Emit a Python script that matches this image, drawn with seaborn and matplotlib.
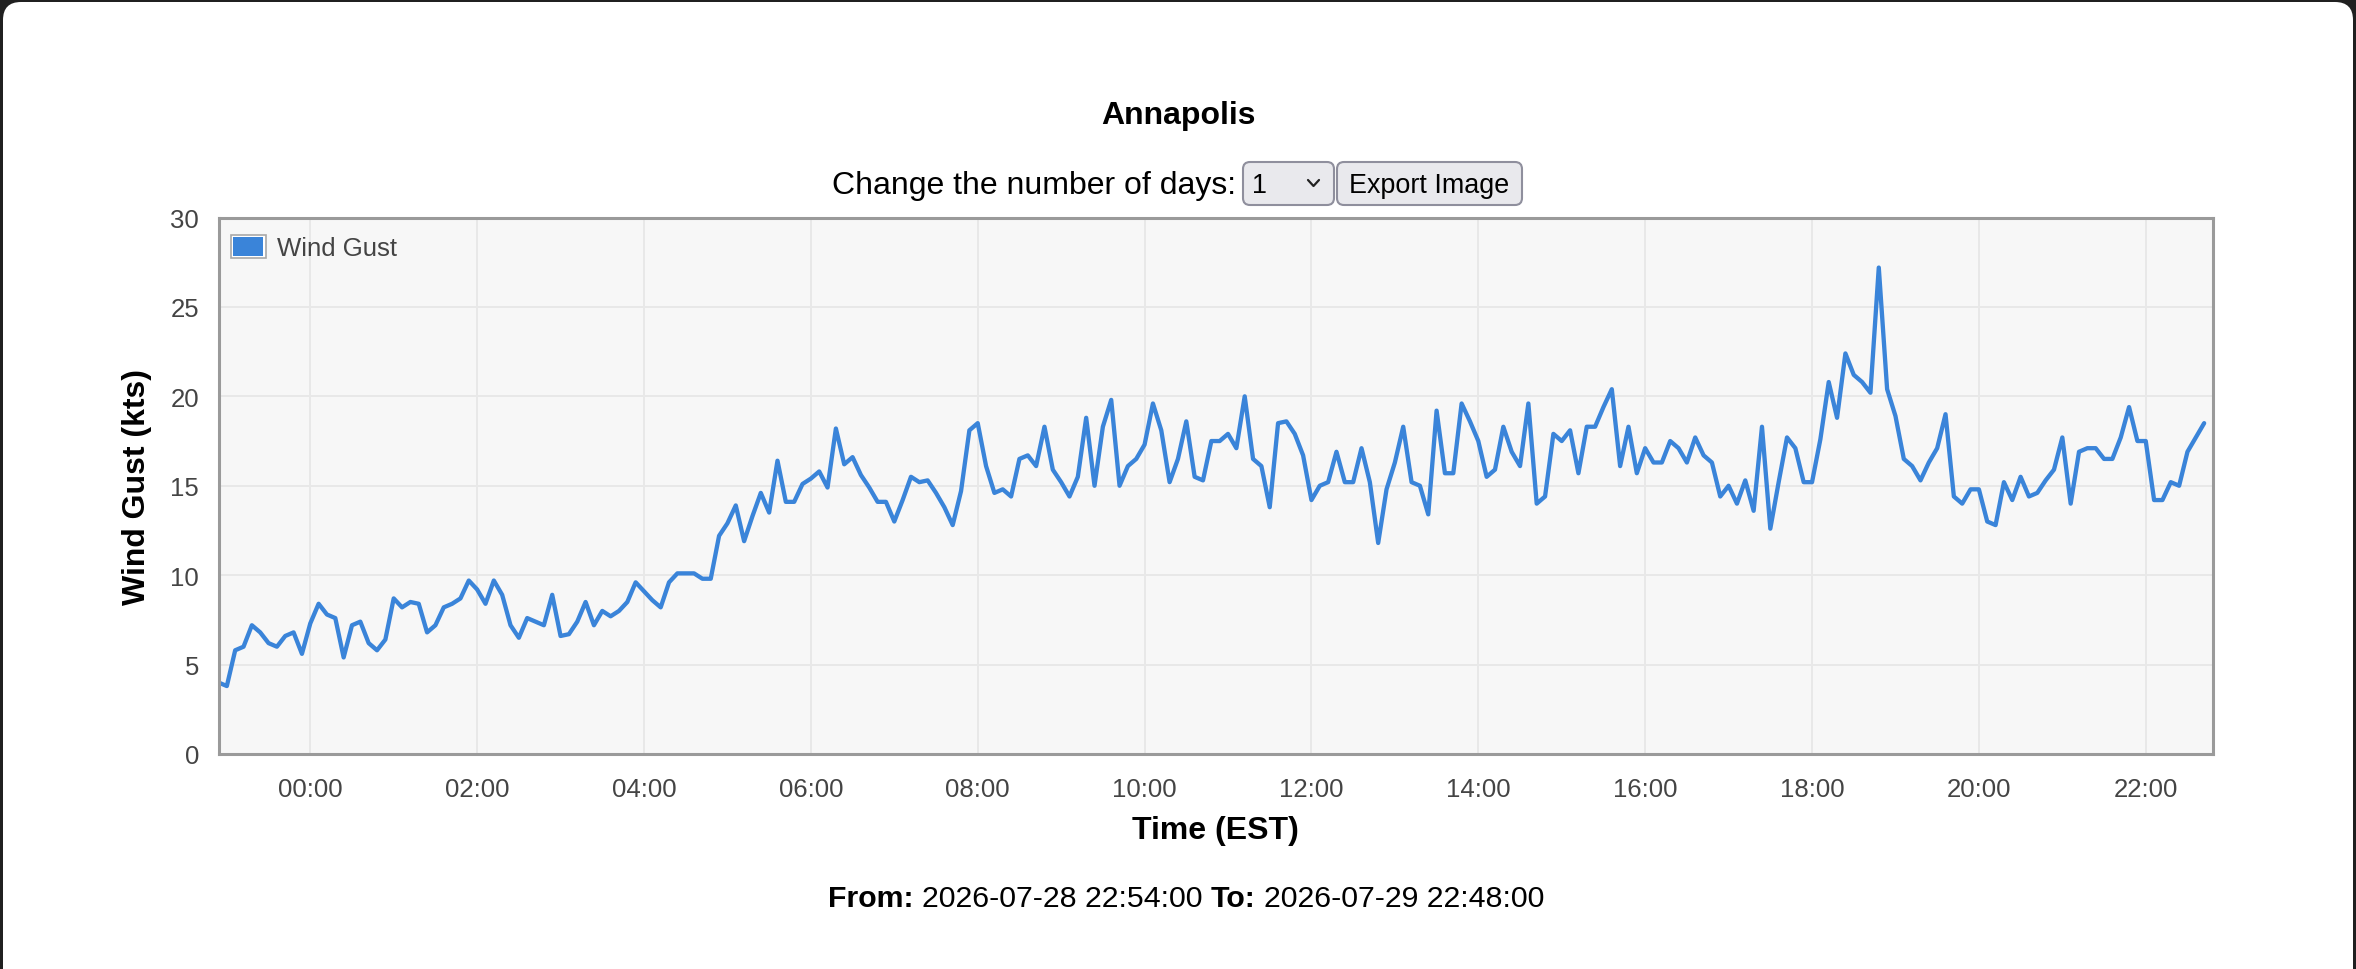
import matplotlib
matplotlib.use("Agg")
import matplotlib.pyplot as plt
import matplotlib.dates as mdates
from matplotlib.patches import FancyBboxPatch, Rectangle, Patch
from matplotlib.legend_handler import HandlerBase
import pandas as pd
import seaborn as sns

# chart data
station = "Annapolis"
start_time = "2026-07-28 22:54:00"
end_time = "2026-07-29 22:48:00"
step = "6min"
series_name = "Wind Gust"

gust_kts = [
    4.0, 3.8, 5.8, 6.0, 7.2, 6.8, 6.2, 6.0, 6.6, 6.8,
    5.6, 7.3, 8.4, 7.8, 7.6, 5.4, 7.2, 7.4, 6.2, 5.8,
    6.4, 8.7, 8.2, 8.5, 8.4, 6.8, 7.2, 8.2, 8.4, 8.7,
    9.7, 9.2, 8.4, 9.7, 8.9, 7.2, 6.5, 7.6, 7.4, 7.2,
    8.9, 6.6, 6.7, 7.4, 8.5, 7.2, 8.0, 7.7, 8.0, 8.5,
    9.6, 9.1, 8.6, 8.2, 9.6, 10.1, 10.1, 10.1, 9.8, 9.8,
    12.2, 12.9, 13.9, 11.9, 13.3, 14.6, 13.5, 16.4, 14.1, 14.1,
    15.1, 15.4, 15.8, 14.9, 18.2, 16.2, 16.6, 15.6, 14.9, 14.1,
    14.1, 13.0, 14.2, 15.5, 15.2, 15.3, 14.6, 13.8, 12.8, 14.7,
    18.1, 18.5, 16.1, 14.6, 14.8, 14.4, 16.5, 16.7, 16.1, 18.3,
    15.9, 15.2, 14.4, 15.5, 18.8, 15.0, 18.3, 19.8, 15.0, 16.1,
    16.5, 17.3, 19.6, 18.1, 15.2, 16.5, 18.6, 15.5, 15.3, 17.5,
    17.5, 17.9, 17.1, 20.0, 16.5, 16.1, 13.8, 18.5, 18.6, 17.9,
    16.7, 14.2, 15.0, 15.2, 16.9, 15.2, 15.2, 17.1, 15.2, 11.8,
    14.8, 16.3, 18.3, 15.2, 15.0, 13.4, 19.2, 15.7, 15.7, 19.6,
    18.6, 17.5, 15.5, 15.9, 18.3, 16.9, 16.1, 19.6, 14.0, 14.4,
    17.9, 17.5, 18.1, 15.7, 18.3, 18.3, 19.4, 20.4, 16.1, 18.3,
    15.7, 17.1, 16.3, 16.3, 17.5, 17.1, 16.3, 17.7, 16.7, 16.3,
    14.4, 15.0, 14.0, 15.3, 13.6, 18.3, 12.6, 15.2, 17.7, 17.1,
    15.2, 15.2, 17.6, 20.8, 18.8, 22.4, 21.2, 20.8, 20.2,
    27.2, 20.4, 18.9, 16.5, 16.1, 15.3, 16.3, 17.1, 19.0, 14.4,
    14.0, 14.8, 14.8, 13.0, 12.8, 15.2, 14.2, 15.5, 14.4, 14.6,
    15.3, 15.9, 17.7, 14.0, 16.9, 17.1, 17.1, 16.5, 16.5, 17.7,
    19.4, 17.5, 17.5, 14.2, 14.2, 15.2, 15.0, 16.9, 17.7, 18.5,
]
y_ticks = [0, 5, 10, 15, 20, 25, 30]
x_tick_hours = list(range(0, 24, 2))

W, H = 2356, 970
LINE_BLUE = "#3a84d9"


class BoxHandler(HandlerBase):
    # legend swatch: gray outline, thin white gap, blue fill
    def create_artists(self, legend, orig_handle, xdescent, ydescent,
                       width, height, fontsize, trans):
        g = 1.6
        outer = Rectangle((-xdescent, -ydescent), width, height,
                          facecolor="white", edgecolor="#a8a8a8", lw=1.2,
                          transform=trans)
        inner = Rectangle((-xdescent + g, -ydescent + g), width - 2 * g,
                          height - 2 * g, facecolor=orig_handle.get_facecolor(),
                          edgecolor="none", transform=trans)
        return [outer, inner]


sns.set_style("white")
plt.rcParams["font.family"] = ["Liberation Sans", "DejaVu Sans"]

fig = plt.figure(figsize=(W / 100, H / 100), dpi=100, facecolor="#202020")

# page background in pixel units
bg = fig.add_axes([0, 0, 1, 1], zorder=0)
bg.set_xlim(0, W)
bg.set_ylim(H, 0)
bg.axis("off")
bg.add_patch(FancyBboxPatch((3, 3), W - 6, H + 40,
                            boxstyle="round,pad=0,rounding_size=18",
                            fc="white", ec="none"))

bg.text(W / 2, 116, station, ha="center", va="center",
        fontsize=23, fontweight="bold", color="black")
bg.text(1236, 186, "Change the number of days:", ha="right", va="center",
        fontsize=23, color="black")

# select box
bg.add_patch(FancyBboxPatch((1243, 163), 91, 43,
                            boxstyle="round,pad=0,rounding_size=7",
                            fc="#e9e9ed", ec="#8f8f9d", lw=1.5))
bg.text(1252, 186, "1", ha="left", va="center", fontsize=19.4, color="black")
bg.plot([1308, 1313.5, 1319], [181, 187, 181], color="#222222", lw=1.6)

# export button
bg.add_patch(FancyBboxPatch((1337, 163), 185, 43,
                            boxstyle="round,pad=0,rounding_size=7",
                            fc="#e9e9ed", ec="#8f8f9d", lw=1.5))
bg.text(1429.5, 186, "Export Image", ha="center", va="center",
        fontsize=19.4, color="black")

# footer line with bold captions
parts = [("From:", "bold"), (start_time, "normal"),
         ("To:", "bold"), (end_time, "normal")]
renderer = fig.canvas.get_renderer()
texts = []
widths = []
for s, weight in parts:
    t = bg.text(0, 899, s, ha="left", va="center", fontsize=21.8,
                fontweight=weight, color="black")
    texts.append(t)
    widths.append(t.get_window_extent(renderer).width)
gap = 8.5
total = sum(widths) + gap * (len(parts) - 1)
x = 1186 - total / 2
for t, w in zip(texts, widths):
    t.set_x(x)
    x += w + gap

# chart
ax = fig.add_axes([218.5 / W, 1 - 755 / H, 1994 / W, 536.5 / H], zorder=1)
df = pd.DataFrame({
    "time": pd.date_range(start_time, periods=len(gust_kts), freq=step),
    "gust": gust_kts,
})
sns.lineplot(data=df, x="time", y="gust", ax=ax, color=LINE_BLUE,
             linewidth=3.1, legend=False)

ax.set_facecolor("#f7f7f7")
ax.set_xlim(pd.Timestamp(start_time), pd.Timestamp(end_time))
ax.set_ylim(0, 30)
ax.set_yticks(y_ticks)
ax.xaxis.set_major_locator(mdates.HourLocator(byhour=x_tick_hours))
ax.xaxis.set_major_formatter(mdates.DateFormatter("%H:%M"))
ax.grid(True, color="#e8e8e8", lw=1.4)
ax.set_axisbelow(True)
for sp in ax.spines.values():
    sp.set_color("#9a9a9a")
    sp.set_linewidth(2.2)
    sp.set_visible(True)
ax.tick_params(axis="both", length=0, labelsize=18.5, labelcolor="#444444")
ax.tick_params(axis="x", pad=16.5)
ax.tick_params(axis="y", pad=14)

ax.set_xlabel("Time (EST)", fontsize=23, fontweight="bold", color="black")
ax.set_ylabel("Wind Gust (kts)", fontsize=23, fontweight="bold", color="black")
ax.yaxis.set_label_coords(-0.0333, 0.5)
ax.xaxis.set_label_coords(0.5, -0.1137)

ax.legend(handles=[Patch(facecolor=LINE_BLUE, label=series_name)],
          handler_map={Patch: BoxHandler()},
          loc="upper left",
          bbox_to_anchor=((231 - 218.5) / 1994, 1 - (236 - 218.5) / 536.5),
          frameon=False, fontsize=18.5, handlelength=1.35, handleheight=1.0,
          handletextpad=0.45, borderpad=0, borderaxespad=0,
          labelcolor="#444444")

fig.savefig("out.png", dpi=100, facecolor=fig.get_facecolor())
